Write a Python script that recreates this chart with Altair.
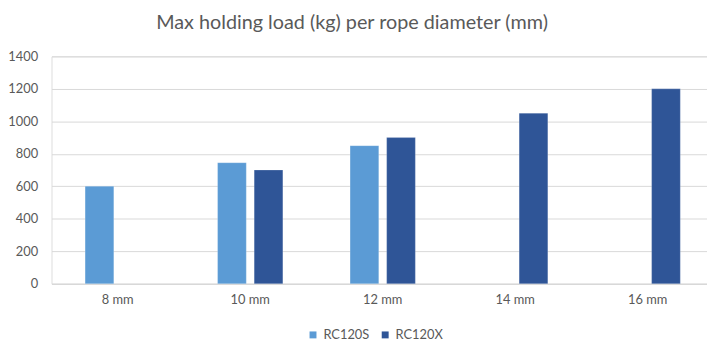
import altair as alt
import pandas as pd

categories = ["8 mm", "10 mm", "12 mm", "14 mm", "16 mm"]
series_names = ["RC120S", "RC120X"]
rc120s = [600, 745, 850, None, None]
rc120x = [None, 700, 900, 1050, 1200]
y_ticks = [0, 200, 400, 600, 800, 1000, 1200, 1400]
colors = ["#5B9BD5", "#2F5597"]

rows = []
for c, a, b in zip(categories, rc120s, rc120x):
    rows.append({"diameter": c, "model": series_names[0], "load": a})
    rows.append({"diameter": c, "model": series_names[1], "load": b})
df = pd.DataFrame(rows).dropna()

FONT = "Lato"
GREY = "#595959"

chart = (
    alt.Chart(df)
    .mark_bar(stroke="#ffffff", strokeOpacity=0.25, strokeWidth=0.8)
    .encode(
        x=alt.X(
            "diameter:N",
            sort=categories,
            scale=alt.Scale(domain=categories, paddingInner=0, paddingOuter=0),
            axis=alt.Axis(
                title=None, labelAngle=0, ticks=False, domain=True, domainColor="#D9D9D9",
                labelColor=GREY, labelFont=FONT, labelFontSize=13, labelPadding=10, grid=False,
            ),
        ),
        xOffset=alt.XOffset(
            "model:N",
            scale=alt.Scale(domain=series_names, paddingInner=0.216, paddingOuter=0.919),
        ),
        y=alt.Y(
            "load:Q",
            scale=alt.Scale(domain=[0, 1400], nice=False),
            axis=alt.Axis(
                title=None, values=y_ticks, format="d", ticks=False, domain=False, gridColor="#D9D9D9",
                labelColor=GREY, labelFont=FONT, labelFontSize=13, labelPadding=14,
            ),
        ),
        color=alt.Color(
            "model:N",
            scale=alt.Scale(domain=series_names, range=colors),
            legend=alt.Legend(
                title=None, orient="none", direction="horizontal", legendX=258, legendY=275,
                symbolType="square", symbolSize=49, symbolStrokeWidth=0, labelOffset=4,
                labelColor=GREY, labelFont=FONT, labelFontSize=13, columnPadding=9,
            ),
        ),
    )
    .properties(
        width=670,
        height=230,
        padding={"left": 44, "top": 47, "right": -7, "bottom": 56},
        autosize=alt.AutoSizeParams(type="none"),
        title=alt.TitleParams(
            "Max holding load (kg) per rope diameter (mm)",
            font=FONT, fontSize=20, fontWeight="normal", color=GREY,
            anchor="middle", dx=-31, offset=18,
        ),
    )
    .configure_view(stroke=None)
    .configure(background="white")
)

chart.save("out.html", embed_options={"renderer": "svg", "actions": False})
